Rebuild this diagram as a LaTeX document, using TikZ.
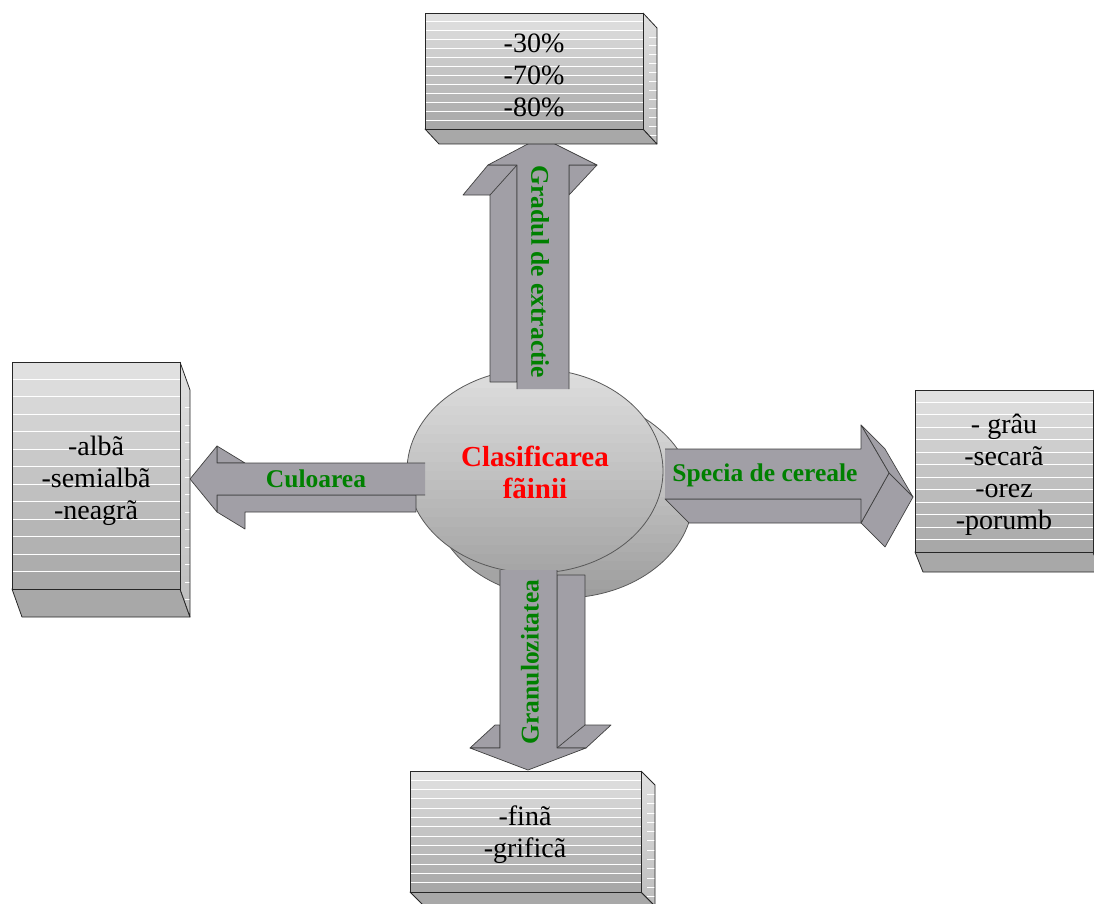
\documentclass[tikz,border=0pt]{standalone}
\usepackage{fontspec}
\setmainfont{Liberation Serif}
\definecolor{arrowgray}{RGB}{161,159,166}
\definecolor{labelgreen}{RGB}{0,128,0}
\definecolor{titlered}{RGB}{255,0,0}

% box with a striped front face, a side face and a bottom face
% #1,#2 = top left of front, #3,#4 = bottom right of front, #5,#6 = depth offset
\newcommand\stripedbox[6]{%
  \filldraw[boxedge, fill=black!34] (#1,#4) -- (#3,#4) -- ({#3+#5},{#4+#6}) -- ({#1+#5},{#4+#6}) -- cycle;
  \shade[top color=black!12, bottom color=black!26] (#3,#2) -- ({#3+#5},{#2+#6}) -- ({#3+#5},{#4+#6}) -- (#3,#4) -- cycle;
  \foreach \i in {1,...,12} {
    \pgfmathsetmacro\yy{#2+(#4-#2)*\i/13+#6}
    \draw[white, line width=0.8pt] ({#3+#5*0.45},\yy) -- ({#3+#5},\yy);
  }
  \draw[boxedge] (#3,#2) -- ({#3+#5},{#2+#6}) -- ({#3+#5},{#4+#6}) -- (#3,#4);
  \foreach \i in {0,...,12} {
    \pgfmathsetmacro\ya{#2+(#4-#2)*\i/13}
    \pgfmathsetmacro\yb{#2+(#4-#2)*(\i+1)/13+0.4}
    \pgfmathsetmacro\pc{12+22*\i/12}
    \fill[black!\pc] (#1,\ya) rectangle (#3,\yb);
  }
  \foreach \i in {1,...,12} {
    \pgfmathsetmacro\ya{#2+(#4-#2)*\i/13}
    \draw[white, line width=0.9pt] (#1,\ya) -- (#3,\ya);
  }
  \draw[boxedge] (#1,#2) rectangle (#3,#4);
}

% ellipse filled with horizontal bands, light at the top
% #1,#2 = centre, #3,#4 = radii, #5 = darkest shade
\newcommand\bandedellipse[5]{%
  \begin{scope}
    \clip (#1,#2) ellipse [x radius=#3pt, y radius=#4pt];
    \foreach \i in {0,...,21} {
      \pgfmathsetmacro\ya{#2-#4+2*#4*\i/22}
      \pgfmathsetmacro\yb{#2-#4+2*#4*(\i+1)/22+0.5}
      \pgfmathsetmacro\pc{13+(#5-13)*\i/21}
      \fill[black!\pc] ({#1-#3},\ya) rectangle ({#1+#3},\yb);
    }
  \end{scope}
  \draw[black!65, line width=0.8pt] (#1,#2) ellipse [x radius=#3pt, y radius=#4pt];
}

\begin{document}
\begin{tikzpicture}[x=1pt, y=-1pt,
  boxedge/.style={draw=black!85, line width=0.8pt, line join=round},
  arrowedge/.style={draw=black!75, line width=0.7pt, line join=round},
  arrowface/.style={arrowedge, fill=arrowgray},
  blacktext/.style={align=center, inner sep=0pt, font=\fontsize{28}{32}\selectfont},
  greentext/.style={inner sep=0pt, text=labelgreen, font=\bfseries\fontsize{25.5}{30}\selectfont},
  redtext/.style={align=center, inner sep=0pt, text=titlered, font=\bfseries\fontsize{29}{32}\selectfont}]
\useasboundingbox (0,0) rectangle (1094,904);

% central disc with its extruded back
\bandedellipse{563}{497}{130}{101}{38}
\bandedellipse{535}{471}{128}{102}{35}

% arrow to the left
\draw[arrowface] (217,446) -- (245,463) -- (217,463) -- cycle;
\draw[arrowface] (217,495) -- (416,495) -- (416,512) -- (245,512) -- (245,529) -- (217,512) -- cycle;
\fill[arrowgray] (425,463) -- (217,463) -- (217,446) -- (190,479) -- (217,512) -- (217,495) -- (425,495) -- cycle;
\draw[arrowedge] (425,463) -- (217,463) -- (217,446) -- (190,479) -- (217,512) -- (217,495) -- (425,495);

% arrow upwards
\draw[arrowface] (488,165) -- (517,165) -- (517,382) -- (490,382) -- (490,195) -- (463,195) -- cycle;
\draw[arrowedge] (517,165) -- (490,195);
\draw[arrowface] (569,165) -- (597,165) -- (569,195) -- cycle;
\fill[arrowgray] (517,389) -- (517,165) -- (488,165) -- (541,137) -- (597,165) -- (569,165) -- (569,389) -- cycle;
\draw[arrowedge] (517,389) -- (517,165) -- (488,165) -- (541,137) -- (597,165) -- (569,165) -- (569,389);

% arrow to the right
\draw[arrowface] (665,499) -- (861,499) -- (885,523) -- (689,523) -- cycle;
\draw[arrowface] (889,473) -- (861,523) -- (885,547) -- (913,497) -- cycle;
\draw[arrowface] (861,425) -- (889,473) -- (913,497) -- (885,449) -- cycle;
\fill[arrowgray] (665,449) -- (861,449) -- (861,425) -- (889,473) -- (861,523) -- (861,499) -- (665,499) -- cycle;
\draw[arrowedge] (665,449) -- (861,449) -- (861,425) -- (889,473) -- (861,523) -- (861,499) -- (665,499);

% arrow downwards
\draw[arrowface] (557,575) -- (585,575) -- (585,725) -- (611,725) -- (586,748) -- (557,748) -- cycle;
\draw[arrowedge] (585,725) -- (557,748);
\draw[arrowface] (470,748) -- (495,725) -- (500,725) -- (500,748) -- cycle;
\fill[arrowgray] (500,570) -- (500,748) -- (470,748) -- (528,770) -- (586,748) -- (557,748) -- (557,570) -- cycle;
\draw[arrowedge] (500,570) -- (500,748) -- (470,748) -- (528,770) -- (586,748) -- (557,748) -- (557,570);

% the four boxes
\stripedbox{425}{13}{643}{129}{14}{15}
\stripedbox{12}{362}{180}{589}{10}{28}
\stripedbox{915}{390}{1093}{552}{8}{20}
\stripedbox{410}{771}{641}{892}{14}{14}

% texts
\node[redtext] (title) at (535,472) {Clasificarea\\fãinii};
\node[blacktext] (extr) at (534,75) {-30\%\\-70\%\\-80\%};
\node[blacktext] (colour) at (96,481) {-albã\\-semialbã\\-neagrã};
\node[blacktext] (species) at (1004,475) {- grâu\\-secarã\\-orez\\-porumb};
\node[blacktext] (grain) at (525,835) {-finã\\-grificã};

\node[greentext] (lblcol) at (316,479) {Culoarea};
\node[greentext] (lblspec) at (765,475) {Specia de cereale};
\node[greentext, rotate=-90] (lblextr) at (540,272) {Gradul de extractie};
\node[greentext, rotate=90] (lblgran) at (530,662) {Granulozitatea};
\end{tikzpicture}
\end{document}
